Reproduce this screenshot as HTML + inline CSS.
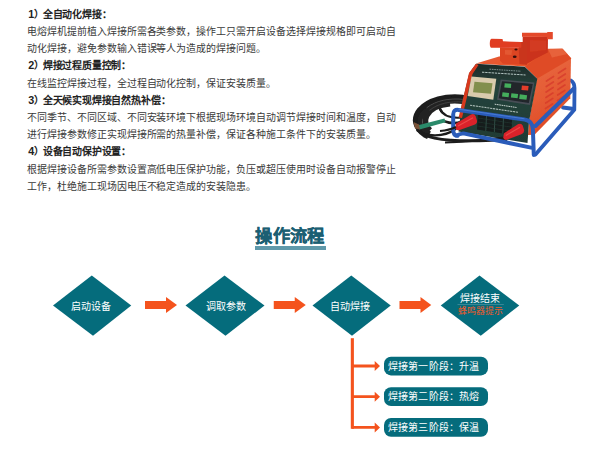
<!DOCTYPE html>
<html lang="zh-CN">
<head>
<meta charset="utf-8">
<title>操作流程</title>
<style>
html,body{margin:0;padding:0;background:#fff;}
body{width:600px;height:449px;position:relative;overflow:hidden;font-family:"Liberation Sans",sans-serif;color:#3a3a3a;}
.txt{position:absolute;left:27px;top:5.7px;width:380px;font-size:9.95px;letter-spacing:-0.04px;line-height:17.2px;}
.txt p.h .n{position:relative;left:1.3px;}
.txt p.h b{font-size:10.8px;line-height:10px;}
.txt p{margin:0;white-space:nowrap;}
.txt p.h{font-weight:bold;color:#222;letter-spacing:-0.17px;}
.title{position:absolute;left:240px;width:100px;top:224px;text-align:center;font-size:17.3px;letter-spacing:0.3px;line-height:24px;font-weight:bold;color:#1b5f73;white-space:nowrap;-webkit-text-stroke:0.28px #1b5f73;}
.uline{position:absolute;left:254.7px;top:246.2px;width:71.6px;height:3.5px;background:#5f99aa;}
svg.flow{position:absolute;left:0;top:0;}
.lbl{position:absolute;color:#fff;font-size:10px;line-height:14px;text-align:center;white-space:nowrap;}
</style>
</head>
<body>
<div class="txt">
<p class="h"><span class="n"><b>1</b>）</span>全自动化焊接：</p>
<p>电熔焊机提前植入焊接所需各类参数，操作工只需开启设备选择焊接规格即可启动自</p>
<p>动化焊接，避免参数输入错误等人为造成的焊接问题。</p>
<p class="h"><span class="n"><b>2</b>）</span>焊接过程质量控制：</p>
<p>在线监控焊接过程，全过程自动化控制，保证安装质量。</p>
<p class="h"><span class="n"><b>3</b>）</span>全天候实现焊接自然热补偿：</p>
<p>不同季节、不同区域、不同安装环境下根据现场环境自动调节焊接时间和温度，自动</p>
<p>进行焊接参数修正实现焊接所需的热量补偿，保证各种施工条件下的安装质量。</p>
<p class="h"><span class="n"><b>4</b>）</span>设备自动保护设置：</p>
<p>根据焊接设备所需参数设置高低电压保护功能，负压或超压使用时设备自动报警停止</p>
<p>工作，杜绝施工现场因电压不稳定造成的安装隐患。</p>
</div>


<svg class="prod" width="600" height="449" viewBox="0 0 600 449" style="position:absolute;left:0;top:0;">
  <defs>
    <filter id="bl" x="-5%" y="-5%" width="110%" height="110%"><feGaussianBlur stdDeviation="0.6"/></filter>
    <linearGradient id="gTop" x1="0" y1="0" x2="1" y2="0.6">
      <stop offset="0" stop-color="#e5603a"/><stop offset="0.5" stop-color="#e8552b"/><stop offset="1" stop-color="#e85a2c"/>
    </linearGradient>
    <linearGradient id="gSide" x1="0" y1="0" x2="0.3" y2="1">
      <stop offset="0" stop-color="#e96b43"/><stop offset="0.6" stop-color="#e45a33"/><stop offset="1" stop-color="#dd4a26"/>
    </linearGradient>
    <linearGradient id="gPanel" x1="0" y1="0" x2="0" y2="1">
      <stop offset="0" stop-color="#1d2a28"/><stop offset="0.3" stop-color="#25433c"/><stop offset="1" stop-color="#1f3a34"/>
    </linearGradient>
  </defs>
  <g filter="url(#bl)">
    <!-- cable coil -->
    <g fill="none" stroke="#1b1b1b" stroke-linecap="round">
      <path d="M463,99.8 C448,98.3 433,101.3 424,110 C415.5,118 416.5,127.5 425.5,133.5 L429,135.3" stroke-width="8.5" stroke="#212121" stroke-linecap="butt"/>
      <path d="M450,103.5 C439,104.5 430,109 426.5,115.5 C424,121 425.5,126.5 430,130.5" stroke-width="6" stroke="#242424" stroke-linecap="butt"/>
      <path d="M463,96 C446,94 428,98.5 418.5,109 C412,117 413.5,125 418,129" stroke-width="2.6"/>
      <path d="M463,98.5 C448,97 432,100 422,109 C413,117 414,128 424,134.5 C436,141 462,141 486,140.5 L506,139.5" stroke-width="3"/>
      <path d="M440,109 C443,116 452,118.5 462,117.5" stroke-width="2.2"/>
      <path d="M417.5,130.5 C426,137 444,137.5 455.5,129" stroke-width="2.4"/>
      <path d="M444,121 C450,123.5 457,123.5 462,121.5" stroke-width="2.6"/>
      <path d="M463,99.3 C449,98 436,100.5 427,107.5" stroke-width="0.6" stroke="#6a6a6a"/>
      <path d="M463,102 C450,101 438,103.5 430,110" stroke-width="0.5" stroke="#5a5a5a"/>
    </g>
    <path d="M434,117.5 C440,113 452,111.5 462,113.5 L462,119.5 C452,121 441,121 434,117.5 Z" fill="#fff"/>
    <path d="M440,109 C443,116 452,118.5 462,117.5" stroke-width="2.2" stroke="#1b1b1b" fill="none"/>
    <!-- green connector -->
    <path d="M418,125.3 L444.5,118.6 L445.6,122.2 L419.5,129.6 Z" fill="#2c8a6a"/>
    <path d="M413.5,122 L419,124.5 L420,129.5 L415,128.5 Z" fill="#7a5238"/>
    <!-- blue frame rear parts -->
    <g fill="none" stroke="#2a5cba" stroke-width="3.8" stroke-linecap="round" stroke-linejoin="round">
      <path d="M535.5,154.5 L574.3,109.8 L574.5,88 Q574.3,82.5 571,80.5"/>
      <path d="M563,107.5 L574,109"/>
    </g>
    <!-- right side of body -->
    <polygon points="536.8,78 571,57.8 570.3,98.2 534.5,134.8 528,135 529,121" fill="url(#gSide)"/>
    <!-- louvers -->
    <g stroke="#d5372a" stroke-width="1.8" stroke-linecap="round" opacity="0.7">
      <line x1="546.5" y1="81" x2="553.5" y2="76.5"/><line x1="558.5" y1="73" x2="565.5" y2="68.5"/>
      <line x1="546.3" y1="86.5" x2="553.3" y2="82"/><line x1="558.3" y1="78.5" x2="565.3" y2="74"/>
      <line x1="546.1" y1="92" x2="553.1" y2="87.5"/><line x1="558.1" y1="84" x2="565.1" y2="79.5"/>
      <line x1="545.9" y1="97.5" x2="552.9" y2="93"/><line x1="557.9" y1="89.5" x2="564.9" y2="85"/>
      <line x1="545.7" y1="103" x2="552.7" y2="98.5"/><line x1="557.7" y1="95" x2="564.7" y2="90.5"/>
      <line x1="545.5" y1="108.5" x2="552.5" y2="104"/><line x1="557.5" y1="100.5" x2="564.5" y2="96"/>
      <line x1="545.3" y1="114" x2="552.3" y2="109.5"/>
    </g>
    <!-- top face + chamfer -->
    <polygon points="476,63.5 499,56.5 547.5,48.7 562.5,48.7 571.3,58.5 537.3,78.5 525,66.5" fill="url(#gTop)"/>
    <polygon points="525,66.5 549,49 562.5,48.7 571.3,58.5 537.3,78.5" fill="#df4c28"/>
    <!-- handle / bracket -->
    <polygon points="548,49.3 562.5,48.7 567.5,54 552,57.5" fill="#ea6a40" opacity="0.75"/>
    <polygon points="522.7,36.5 548,37 547.8,52.5 536,58.5 527,63.8 522.7,60" fill="#cb331b"/>
    <polygon points="530,40 546,40.5 546,50 530,52" fill="#d84024" opacity="0.6"/>
    <path d="M522,32.8 L547,32.8 L547.5,32 L552.8,32 L552.8,39.3 L547,39.3 L547,37 L522,36.8 Z" fill="#e4492b"/>
    <polygon points="500,47.3 526.7,47.8 526.7,64.8 503,63.8 500,60.5" fill="#dc4524"/>
    <polygon points="518.5,42 527,42 527,64.8 519.5,64" fill="#c9351c"/>
    <path d="M491.5,38.7 L502.5,38.9 L503,41.3 L521.3,42 L521.3,47.8 L503,47.8 L491.3,47.8 Q489.7,47.3 489.8,43.2 Q489.9,39 491.5,38.7 Z" fill="#e03d22"/>
    <ellipse cx="516" cy="49.5" rx="1.6" ry="1.1" fill="#35100a"/><ellipse cx="514.7" cy="56.7" rx="1.9" ry="1.2" fill="#35100a"/>
    <polygon points="505,50 512,50.3 511.5,55 505,54.5" fill="#e8683c" opacity="0.6"/>
    <!-- front panel -->
    <polygon points="476,63.7 524.8,66.7 537.3,78.7 529,121.5 527.5,143 458.5,131.5 461.7,105 469.2,73.3" fill="url(#gPanel)"/>
    <!-- red left stripe -->
    <polygon points="476,63.7 478.5,65 472.5,74 464.8,106 462,118 458.6,117.5 461.6,105 469,73" fill="#d8391f"/>
    <!-- header text -->
    <line x1="489.5" y1="69.2" x2="521" y2="71.2" stroke="#8fa5a2" stroke-width="0.8" stroke-dasharray="1.6 0.8"/>
    <line x1="482" y1="72.2" x2="525.5" y2="75" stroke="#b5c6c3" stroke-width="1" stroke-dasharray="2.4 0.8"/>
    <!-- LCD -->
    <polygon points="471.5,76.5 496.3,78.7 493.3,99.7 467.7,96" fill="#d9cbad"/>
    <polygon points="474.5,81.7 492.5,83.2 491,93.8 473,92.2" fill="#828f4d"/>
    <!-- button panel -->
    <polygon points="500.7,79.5 534.5,82.5 530,105 497,99.7" fill="#474e55"/>
    <polygon points="502,81.2 532.8,84 528.8,103 498.7,98.3" fill="#20252c"/>
    <polygon points="504.7,83.2 511.3,83.8 510.9,88 504.3,87.4" fill="#45ad5c"/>
    <polygon points="521.9,85.4 528.6,86 528.1,90.5 521.4,89.9" fill="#e63d2b"/>
    <polygon points="502.5,92.2 509.1,93 508.6,97.2 502,96.4" fill="#45ad5c"/>
    <polygon points="511.4,93.2 518.1,94 517.6,98.3 510.9,97.5" fill="#45ad5c"/>
    <polygon points="519.8,94.3 527.1,95.2 526.5,99.8 519.2,98.9" fill="#45ad5c"/>
    <!-- panel small text lines -->
    <line x1="494.7" y1="104.2" x2="516.5" y2="107.5" stroke="#c4d0cc" stroke-width="1" stroke-dasharray="1.7 0.6"/>
    <line x1="470" y1="105.2" x2="518" y2="112.3" stroke="#a9bab5" stroke-width="1.1" stroke-dasharray="2.2 0.7"/>
    <!-- vents -->
    <polygon points="478,113.5 512,118.7 511.5,134.8 477,129.5" fill="#131c1a"/>
    <g stroke="#35524b" stroke-width="0.9">
      <line x1="486.5" y1="114.8" x2="485.8" y2="130.8"/><line x1="495" y1="116.1" x2="494.3" y2="132.1"/>
      <line x1="503.5" y1="117.4" x2="502.8" y2="133.4"/>
    </g>
    <g stroke="#2b433d" stroke-width="0.5">
      <line x1="478" y1="118" x2="512" y2="123.2"/><line x1="478" y1="122" x2="512" y2="127.2"/><line x1="477.5" y1="126" x2="511.7" y2="131.2"/>
    </g>
    <!-- cable to right connector -->
    <path d="M445,142.5 C465,141.5 490,139.5 506.5,137.3" fill="none" stroke="#1c1c1c" stroke-width="2.2"/>
    <!-- blue frame front -->
    <g fill="none" stroke="#2a5cba" stroke-width="4" stroke-linecap="round" stroke-linejoin="round">
      <path d="M535.5,126 L573.8,88.5"/>
      <path d="M457.5,135.8 Q453.2,135.5 453.2,130 L453.2,114.5 Q453.2,109.2 458.5,109.9 L524.5,119.6 Q532.8,121 532.9,129.5 L533.8,155"/>
      <path d="M456.5,135.5 Q459,134.2 463.3,133.4 L531,147.6"/>
    </g>
    <path d="M458.5,109.2 L524.5,118.8" fill="none" stroke="#5d8fe0" stroke-width="1" opacity="0.6"/>
    <!-- red connectors -->
    <g transform="translate(-1,-1.8)">
    <path d="M457,125.2 L472,116.3 Q475.3,115 476.6,118 L478,122.3 Q478.5,125 476,126.2 L460,132 Q457.3,132.5 456.3,130 Z" fill="#da2329"/>
    <path d="M459,127.8 L474,119.5" stroke="#ef5a55" stroke-width="1.2" fill="none" opacity="0.7"/>
    </g>
    <g transform="translate(-1.5,-1.5)">
    <path d="M505.5,134.7 L519.8,125.6 Q523,124.3 524.3,127.3 L525.6,131.6 Q526,134.2 523.5,135.4 L508.3,141.3 Q505.6,141.8 504.7,139.3 Z" fill="#da2329"/>
    <path d="M507.3,137 L521.5,128.8" stroke="#ef5a55" stroke-width="1.2" fill="none" opacity="0.7"/>
    </g>
    <path d="M440,131 C447,130.5 452,129 456,127" fill="none" stroke="#1c1c1c" stroke-width="2.2"/>
  </g>
</svg>

<div class="title">操作流程</div>
<div class="uline"></div>

<svg class="flow" width="600" height="449" viewBox="0 0 600 449">
  <g fill="#056c7c">
    <polygon points="53,305.5 91.75,275.5 131.25,305.5 93,335.75"/>
    <polygon points="185.5,305.5 224.5,275.5 264.5,305.5 225.5,335.75"/>
    <polygon points="312.5,305.5 351.25,275.5 390.75,305.5 352,335.75"/>
    <polygon points="440.75,305.5 479.5,275.5 519.25,305.5 480.75,335.75"/>
    <rect x="384" y="356.7" width="104" height="18.7" rx="7" ry="7"/>
    <rect x="384" y="387.3" width="104" height="18.7" rx="7" ry="7"/>
    <rect x="384" y="418" width="104" height="18.7" rx="7" ry="7"/>
  </g>
  <g fill="#f4531d">
    <polygon points="145,301 166,301 166,297 177,305 166,313 166,309 145,309"/>
    <polygon points="273.75,301 294.75,301 294.75,297 305.75,305 294.75,313 294.75,309 273.75,309"/>
    <polygon points="399.5,301 420.5,301 420.5,297 431.25,305 420.5,313 420.5,309 399.5,309"/>
    <rect x="350.8" y="338.2" width="3.1" height="90.6"/>
    <polygon points="352,364.6 374.7,364.6 374.7,361 380,366 374.7,371 374.7,367.4 352,367.4"/>
    <polygon points="352,395.3 374.7,395.3 374.7,391.7 380,396.7 374.7,401.7 374.7,398.1 352,398.1"/>
    <polygon points="352,426 374.7,426 374.7,422.4 380,427.4 374.7,432.4 374.7,428.8 352,428.8"/>
  </g>
  <rect x="457.5" y="304.3" width="46.3" height="0.6" fill="#5a9aaa"/>
</svg>

<div class="lbl" style="left:61.3px;width:60px;top:300px;">启动设备</div>
<div class="lbl" style="left:195.9px;width:60px;top:300px;">调取参数</div>
<div class="lbl" style="left:320.3px;width:60px;top:300px;">自动焊接</div>
<div class="lbl" style="left:450px;width:60px;top:292.2px;">焊接结束</div>
<div class="lbl" style="left:450.4px;width:60px;top:305.2px;font-size:8.9px;line-height:13px;color:#f05a2a;">蜂鸣器提示</div>
<div class="lbl" style="left:383.3px;width:101px;top:359.6px;letter-spacing:0.2px;">焊接第一阶段：升温</div>
<div class="lbl" style="left:383.3px;width:101px;top:390.3px;letter-spacing:0.2px;">焊接第二阶段：热熔</div>
<div class="lbl" style="left:383.3px;width:101px;top:420.9px;letter-spacing:0.2px;">焊接第三阶段：保温</div>

</body>
</html>
